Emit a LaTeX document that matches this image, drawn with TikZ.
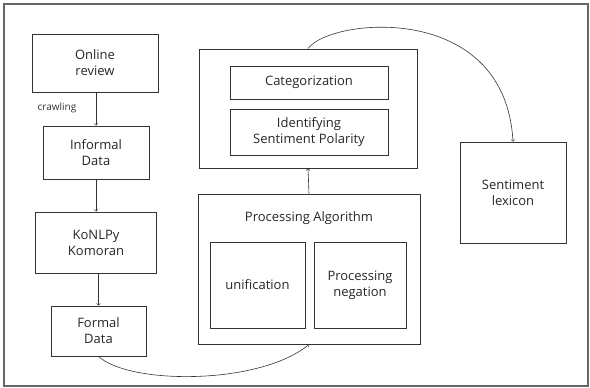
\documentclass[tikz,border=0pt]{standalone}
\usepackage{fontspec}
\setmainfont{Open Sans}
\usepackage{tikz}
\usetikzlibrary{positioning}

\tikzset{
  box/.style={draw=black!80, line width=0.9pt, align=center, inner sep=0pt,
    font=\fontsize{13}{16}\selectfont, text=black!85},
  flow/.style={->, black!80, line width=0.6pt}
}

\begin{document}
\begin{tikzpicture}[x=1pt,y=1pt]
      \useasboundingbox (0,0) rectangle (590,-388);
      \draw [black!60, line width=1.6pt] (4,-4) rectangle (588,-386);
      % left column
      \node [box, minimum width=126, minimum height=58] (online) at (95,-63) {Online\\review};
      \node [box, minimum width=106, minimum height=53] (informal) at (96,-152.5) {Informal\\Data};
      \node [box, minimum width=121, minimum height=61] (konlpy) at (96,-242.5) {KoNLPy\\Komoran};
      \node [box, minimum width=95, minimum height=50] (formal) at (98.5,-331) {Formal\\Data};
      \node [font=\fontsize{10}{12}\selectfont, black!80] (crawl) at (57,-108) {crawling};
      % middle
      \node [box, minimum width=218, minimum height=119] (polar) at (308,-108.5) {};
      \node [box, minimum width=158, minimum height=33] (categ) at (309,-82.5) {Categorization};
      \node [box, minimum width=158, minimum height=46] (ident) at (309,-132) {Identifying\\Sentiment Polarity};
      \node [box, minimum width=222, minimum height=150] (proc) at (309,-269) {};
      \node [font=\fontsize{13}{16}\selectfont, black!85] (title) at (309,-218) {Processing Algorithm};
      \node [box, minimum width=95, minimum height=86] (unif) at (257.5,-285) {unification};
      \node [box, minimum width=92, minimum height=86] (negat) at (360,-285) {Processing\\negation};
      % right
      \node [box, minimum width=106, minimum height=101] (lexicon) at (513,-192.5) {Sentiment\\lexicon};
      % arrows
      \draw [flow] (online.south -| informal.north) -- (informal.north);
      \draw [flow] (informal) -- (konlpy);
      \draw [flow] (konlpy.south -| formal.north) -- (formal.north);
      \draw [flow] (proc.north) -- (polar.south);
      \draw [flow] (formal.south) .. controls (130,-385) and (260,-385) .. (proc.south);
      \draw [flow] (polar.north) .. controls (330,-18) and (505,0) .. (lexicon.north);
    \end{tikzpicture}
\end{document}
